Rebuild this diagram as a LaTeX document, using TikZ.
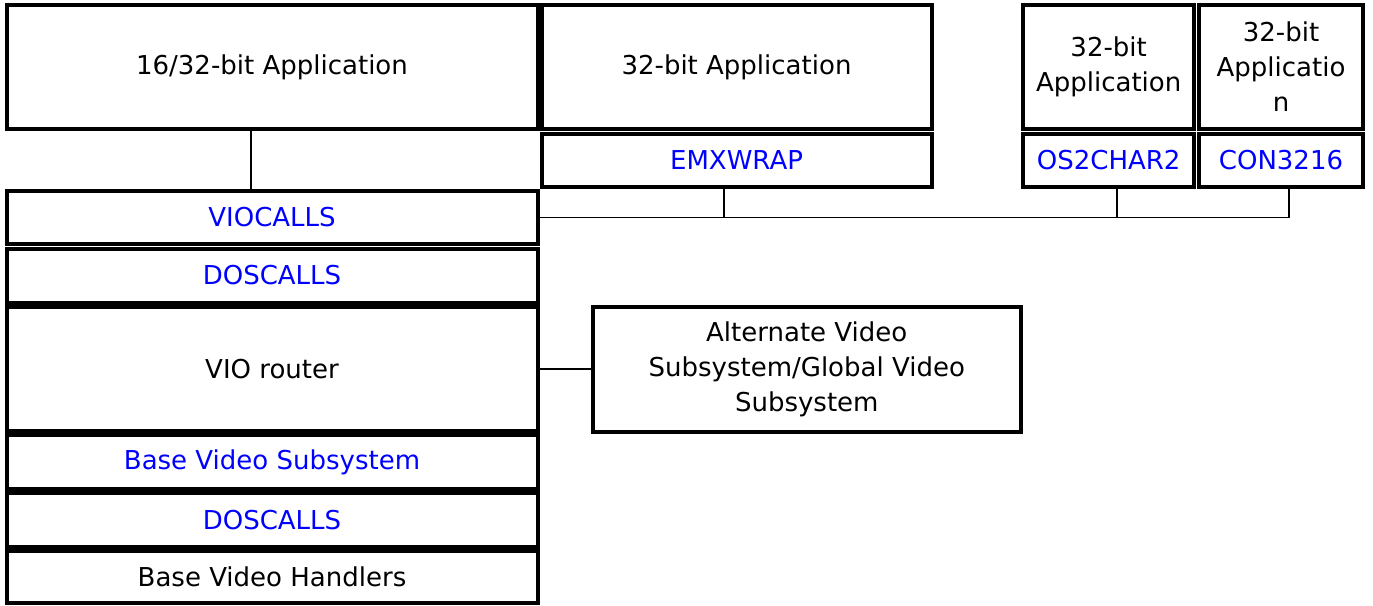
\documentclass[tikz,border=0pt]{standalone}
\usepackage{fontspec}
\setmainfont{DejaVu Sans}
\begin{document}
\begin{tikzpicture}[x=1pt,y=-1pt,
  box/.style={draw=black, line width=4pt, rectangle, inner sep=0pt, align=center,
    font=\fontsize{26}{35}\selectfont},
  lib/.style={box, text=blue},
  conn/.style={draw=black, line width=1.8pt}]
\useasboundingbox (0,0) rectangle (1373,605);
% top row
\node[box, minimum width=531pt, minimum height=123.2pt] (A1) at (272,66.9) {16/32-bit Application};
\node[box, minimum width=390pt, minimum height=124pt] (A2) at (736.5,67) {32-bit Application};
\node[lib, minimum width=390pt, minimum height=53pt] (W2) at (736.5,160) {EMXWRAP};
\node[box, minimum width=170.7pt, minimum height=124pt] (A3) at (1108.65,67) {32-bit\\Application};
\node[lib, minimum width=170.7pt, minimum height=53pt] (W3) at (1108.65,160) {OS2CHAR2};
\node[box, minimum width=164.6pt, minimum height=124pt] (A4) at (1281,67) {32-bit\\Applicatio\\n};
\node[lib, minimum width=164.6pt, minimum height=53pt] (W4) at (1281,160) {CON3216};
% left stack
\node[lib, minimum width=531pt, minimum height=53pt] (VIOC) at (272,217.5) {VIOCALLS};
\node[lib, minimum width=531pt, minimum height=54pt] (DOS1) at (272,275.5) {DOSCALLS};
\node[box, minimum width=531pt, minimum height=124.5pt] (VIOR) at (272,368.75) {VIO router};
\node[lib, minimum width=531pt, minimum height=54pt] (BVS) at (272,462) {Base Video Subsystem};
\node[lib, minimum width=531pt, minimum height=54.5pt] (DOS2) at (272,519.75) {DOSCALLS};
\node[box, minimum width=531pt, minimum height=52.5pt] (BVH) at (272,576.75) {Base Video Handlers};
% alternate
\node[box, minimum width=427.5pt, minimum height=125pt] (ALT) at (806.75,369.2) {Alternate Video\\Subsystem/Global Video\\Subsystem};
% connectors
\draw[conn] ([xshift=-21pt]A1.south) -- ([xshift=-21pt]VIOC.north);
\coordinate (busend) at ([xshift=8.3pt]W4.south |- VIOC.east);
\draw[conn] (VIOC.east) -- (busend) -- ([xshift=8.3pt]W4.south);
\draw[conn] ([xshift=-12.5pt]W2.south) -- ([xshift=-12.5pt]W2.south |- VIOC.east);
\draw[conn] ([xshift=8pt]W3.south) -- ([xshift=8pt]W3.south |- VIOC.east);
\draw[conn] (VIOR.east) -- (VIOR.east -| ALT.west);
\end{tikzpicture}
\end{document}
